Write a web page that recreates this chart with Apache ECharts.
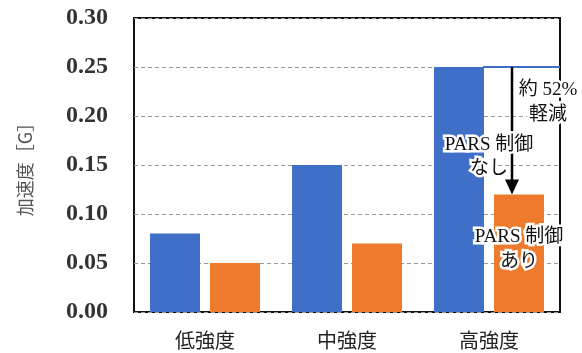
<!DOCTYPE html>
<html><head><meta charset="utf-8">
<script src="https://cdn.jsdelivr.net/npm/echarts@6/dist/echarts.min.js"></script>
<style>html,body{margin:0;padding:0;background:#fff}#c{width:582px;height:353px}</style>
</head><body><div id="c"></div>
<script>
const categories = ['低強度', '中強度', '高強度'];
const noControl = [0.08, 0.15, 0.25];
const withControl = [0.05, 0.07, 0.12];
const yTicks = {min: 0, max: 0.30, interval: 0.05};
const yName = '加速度［G］';
const annoReduction = ['約 52%', '軽減'];
const annoNo = ['PARS 制御', 'なし'];
const annoYes = ['PARS 制御', 'あり'];

const BLUE = '#3F6FC6';
const ORANGE = '#EE7A2E';
const serif = '"Liberation Serif","Noto Sans CJK JP",serif';
const cjk = '"Noto Sans CJK JP","Liberation Serif",sans-serif';

const chart = echarts.init(document.getElementById('c'));
chart.setOption({
  animation: false,
  grid: {left: 134, right: 22, top: 18, bottom: 41, show: true, borderColor: '#111', borderWidth: 2, backgroundColor: 'transparent'},
  xAxis: {
    type: 'category', data: categories,
    axisLine: {show: false}, axisTick: {show: false},
    axisLabel: {fontFamily: cjk, fontSize: 20, color: '#222', margin: 18}
  },
  yAxis: {
    type: 'value', min: yTicks.min, max: yTicks.max, interval: yTicks.interval,
    name: yName, nameLocation: 'middle', nameGap: 100, nameRotate: 90,
    nameTextStyle: {fontFamily: cjk, fontSize: 18, color: '#555'},
    axisLine: {show: false}, axisTick: {show: false},
    axisLabel: {fontFamily: serif, fontWeight: 'bold', fontSize: 24, color: '#333', margin: 26,
      formatter: v => v.toFixed(2)},
    splitLine: {lineStyle: {type: [4, 3], color: '#999', width: 1}}
  },
  series: [
    {type: 'bar', data: noControl, barWidth: 50, barGap: '20%', itemStyle: {color: BLUE}},
    {type: 'bar', data: withControl, barWidth: 50, itemStyle: {color: ORANGE}}
  ]
});

function px(i, v) { return chart.convertToPixel({gridIndex: 0}, [i, v]); }
const hi = 2;
const pTop = px(hi, noControl[hi]);
const pLow = px(hi, withControl[hi]);
const rightEdge = px(hi, 0)[0] + 71;
const ax = pTop[0] + 23;
const txt = (t, x, y, size) => ({
  type: 'text', z: 100,
  style: {text: t, x: x, y: y, align: 'center', verticalAlign: 'middle',
    font: size + 'px ' + serif, fill: '#111', stroke: '#fff', lineWidth: 5}
});
chart.setOption({
  graphic: [
    {type: 'line', z: 50, shape: {x1: pTop[0] - 6, y1: pTop[1], x2: rightEdge, y2: pTop[1]}, style: {stroke: BLUE, lineWidth: 2}},
    {type: 'line', z: 51, shape: {x1: ax, y1: pTop[1], x2: ax, y2: pLow[1] - 12}, style: {stroke: '#000', lineWidth: 2.5}},
    {type: 'polygon', z: 51, shape: {points: [[ax - 7, pLow[1] - 15], [ax + 7, pLow[1] - 15], [ax, pLow[1]]]}, style: {fill: '#000'}},
    txt(annoReduction[0], ax + 36, pTop[1] + 23, 19),
    txt(annoReduction[1], ax + 36, pTop[1] + 48, 19),
    txt(annoNo[0], pTop[0], pTop[1] + 78, 19),
    txt(annoNo[1], pTop[0], pTop[1] + 102, 19),
    txt(annoYes[0], ax + 7, pLow[1] + 43, 19),
    txt(annoYes[1], ax + 7, pLow[1] + 68, 19)
  ]
});
</script></body></html>
